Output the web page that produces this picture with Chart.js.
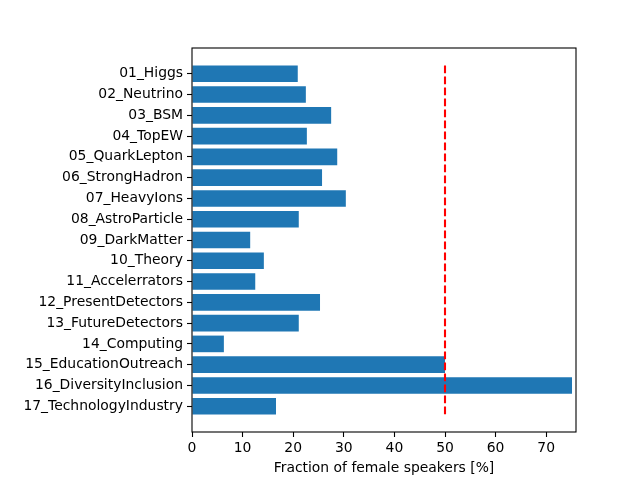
<!DOCTYPE html>
<html>
<head>
<meta charset="utf-8">
<script src="https://cdn.jsdelivr.net/npm/chart.js@4/dist/chart.umd.min.js"></script>
<style>
  html, body { margin: 0; padding: 0; background: #fff; }
  #wrap { width: 640px; height: 480px; }
</style>
</head>
<body>
<div id="wrap"><canvas id="chart" width="640" height="480"></canvas></div>
<script>
// categories (top to bottom)
const sessions = [
  "01_Higgs", "02_Neutrino", "03_BSM", "04_TopEW", "05_QuarkLepton",
  "06_StrongHadron", "07_HeavyIons", "08_AstroParticle", "09_DarkMatter",
  "10_Theory", "11_Accelerrators", "12_PresentDetectors", "13_FutureDetectors",
  "14_Computing", "15_EducationOutreach", "16_DiversityInclusion",
  "17_TechnologyIndustry"
]
// fraction of female speakers [%]
const femaleFraction = [
  20.9, 22.5, 27.5, 22.7, 28.7, 25.7, 30.4, 21.1, 11.5,
  14.2, 12.5, 25.3, 21.1, 6.3, 50.0, 75.1, 16.6
]
const xTicks = [0, 10, 20, 30, 40, 50, 60, 70]
const refLineX = [50, 50]
const refLineY = [-0.4, 16.4]

const BLUE = "#1f77b4"
const FONT = { family: "'DejaVu Sans', sans-serif", size: 13.9 }

// matplotlib-like margins around the data
const xMax = Math.max(...femaleFraction) * 1.0105
const yLo = refLineY[0] - 0.05 * (refLineY[1] - refLineY[0])
const yHi = refLineY[1] + 0.05 * (refLineY[1] - refLineY[0])

// box around the plot area
const frame = {
  id: "frame",
  afterDraw(chart) {
    const { ctx, chartArea: a } = chart
    ctx.save()
    ctx.strokeStyle = "#000"
    ctx.lineWidth = 1.1
    ctx.strokeRect(a.left, a.top, a.right - a.left, a.bottom - a.top)
    ctx.restore()
  },
}

new Chart(document.getElementById("chart"), {
  data: {
    datasets: [
      {
        type: "bar",
        indexAxis: "y",
        data: femaleFraction.map((v, i) => ({ x: v, y: i })),
        backgroundColor: BLUE,
        borderWidth: 0,
        barPercentage: 0.8,
        categoryPercentage: 1.0,
        order: 2,
      },
      {
        type: "line",
        data: refLineX.map((x, i) => ({ x: x, y: refLineY[i] })),
        borderColor: "red",
        borderWidth: 2.1,
        borderDash: [7.7, 3.3],
        pointRadius: 0,
        fill: false,
        order: 1,
      },
    ],
  },
  options: {
    responsive: false,
    animation: false,
    layout: { padding: { top: 48, right: 64, left: 0, bottom: 0 } },
    plugins: { legend: { display: false }, tooltip: { enabled: false } },
    scales: {
      x: {
        type: "linear",
        min: 0,
        max: xMax,
        offset: false,
        afterBuildTicks: (scale) => { scale.ticks = xTicks.map((v) => ({ value: v })) },
        afterFit: (scale) => { scale.height = 48 },
        grid: { offset: false, drawOnChartArea: false, drawTicks: true, tickLength: 5, color: "#000", tickWidth: 1.1 },
        border: { display: false },
        ticks: { color: "#000", font: FONT, padding: 3, maxRotation: 0 },
        title: {
          display: true,
          text: "Fraction of female speakers [%]",
          color: "#000",
          font: FONT,
          padding: { top: 0, bottom: 3 },
        },
      },
      y: {
        type: "linear",
        min: yLo,
        max: yHi,
        reverse: true,
        offset: false,
        afterBuildTicks: (scale) => { scale.ticks = sessions.map((_, i) => ({ value: i })) },
        afterFit: (scale) => { scale.width = 192 },
        grid: { offset: false, drawOnChartArea: false, drawTicks: true, tickLength: 5, color: "#000", tickWidth: 1.1 },
        border: { display: false },
        ticks: {
          color: "#000",
          font: FONT,
          padding: 4,
          autoSkip: false,
          callback: (value) => sessions[value] ?? "",
        },
      },
    },
  },
  plugins: [frame],
})
</script>
</body>
</html>
